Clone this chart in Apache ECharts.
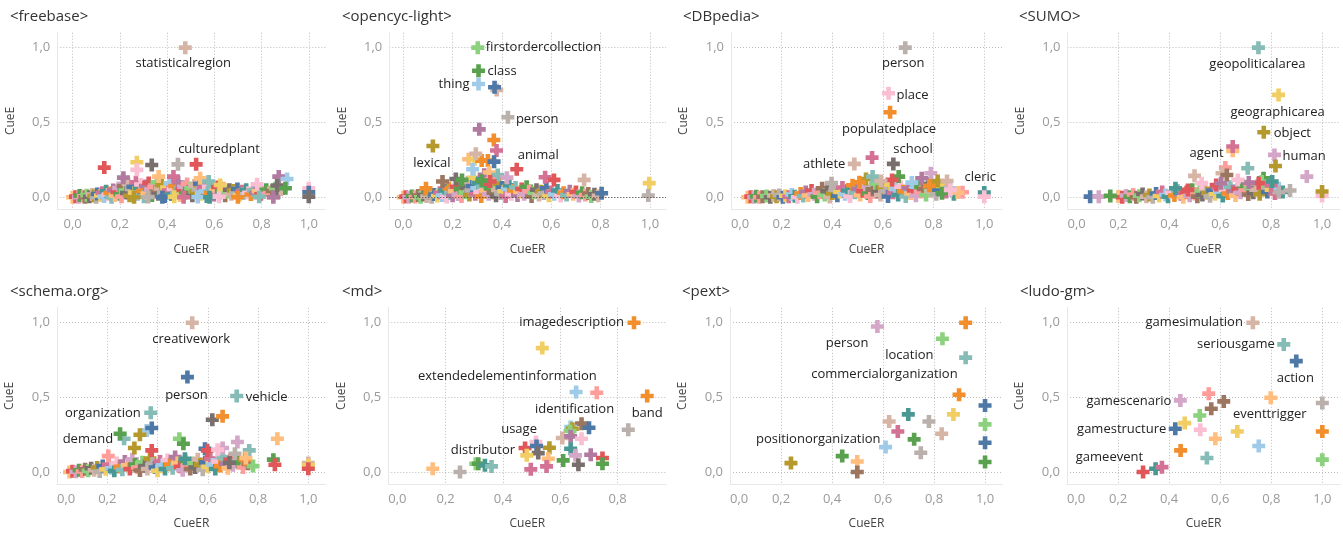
<!DOCTYPE html>
<html>
<head>
<meta charset="utf-8">
<script src="https://cdn.jsdelivr.net/npm/echarts@6/dist/echarts.min.js"></script>
<style>
html,body{margin:0;padding:0;background:#fff;}
#chart{width:1343px;height:534px;}
</style>
</head>
<body>
<div id="chart"></div>
<script>
// ---------- DATA ----------
const panelTitles = ['<freebase>', '<opencyc-light>', '<DBpedia>', '<SUMO>', '<schema.org>', '<md>', '<pext>', '<ludo-gm>'];
const xTickValues = [0, 0.2, 0.4, 0.6, 0.8, 1.0];
const xTickValuesMd = [0, 0.2, 0.4, 0.6, 0.8];
const yTickValues = [0, 0.5, 1.0];
const xAxisName = 'CueER';
const yAxisName = 'CueE';

// freebase
const freebaseNames = ['statisticalregion', 'culturedplant'];
const freebaseTop = [[0.477,1.0],[0.523,0.22],[0.134,0.198],[0.272,0.234],[0.272,0.183],[0.335,0.216],[0.446,0.22],[0.215,0.131],[0.364,0.138],[0.427,0.138],[0.54,0.127],[0.576,0.105],[0.625,0.082],[0.781,0.087],[0.873,0.138],[0.908,0.122],[0.866,0.078],[0.901,0.06],[1.0,0.06],[1.0,0.033],[1.0,0.004]];
const freebaseBand = [[0.0,0.0],[0.012,0.004],[0.025,0.0],[0.03,0.011],[0.045,0.006],[0.052,0.0],[0.06,0.014],[0.071,0.003],[0.083,0.018],[0.09,0.008],[0.1,0.0],[0.104,0.022],[0.118,0.012],[0.125,0.03],[0.133,0.005],[0.142,0.04],[0.15,0.018],[0.158,0.028],[0.165,0.0],[0.172,0.048],[0.18,0.012],[0.188,0.035],[0.195,0.062],[0.2,0.02],[0.207,0.004],[0.214,0.075],[0.222,0.045],[0.228,0.028],[0.235,0.09],[0.241,0.01],[0.248,0.055],[0.255,0.07],[0.262,0.032],[0.268,0.1],[0.275,0.018],[0.282,0.06],[0.288,0.085],[0.295,0.042],[0.302,0.004],[0.308,0.075],[0.315,0.025],[0.322,0.095],[0.33,0.05],[0.336,0.012],[0.343,0.068],[0.35,0.035],[0.357,0.1],[0.363,0.02],[0.37,0.058],[0.377,0.08],[0.384,0.03],[0.39,0.005],[0.398,0.065],[0.405,0.045],[0.412,0.092],[0.418,0.018],[0.425,0.055],[0.432,0.075],[0.44,0.03],[0.447,0.1],[0.455,0.012],[0.462,0.05],[0.47,0.07],[0.477,0.028],[0.485,0.088],[0.492,0.04],[0.5,0.06],[0.507,0.01],[0.515,0.078],[0.522,0.035],[0.53,0.052],[0.537,0.09],[0.545,0.02],[0.553,0.065],[0.56,0.04],[0.568,0.005],[0.575,0.07],[0.583,0.03],[0.59,0.055],[0.598,0.015],[0.606,0.045],[0.614,0.068],[0.622,0.025],[0.63,0.04],[0.638,0.06],[0.646,0.01],[0.655,0.035],[0.664,0.05],[0.672,0.02],[0.68,0.045],[0.69,0.03],[0.698,0.055],[0.707,0.015],[0.716,0.04],[0.725,0.025],[0.735,0.05],[0.745,0.03],[0.755,0.018],[0.765,0.045],[0.775,0.028],[0.786,0.04],[0.797,0.02],[0.808,0.035],[0.82,0.05],[0.832,0.028],[0.845,0.042],[0.858,0.06],[0.87,0.03],[0.882,0.05],[0.26,0.0],[0.32,0.002],[0.38,0.0],[0.43,0.003],[0.47,0.0],[0.53,0.002],[0.58,0.0],[0.62,0.004],[0.7,0.0],[0.79,0.003],[0.85,0.0]];

// opencyc-light
const opencycNames = ['firstordercollection', 'class', 'thing', 'person', 'lexical', 'animal'];
const opencycTop = [[0.302,1.0],[0.305,0.846],[0.305,0.757],[0.424,0.535],[0.12,0.343],[0.46,0.187],[0.379,0.717],[0.37,0.735],[0.308,0.454],[0.367,0.383],[0.378,0.312],[0.265,0.254],[0.289,0.254],[0.318,0.245],[0.343,0.245],[0.368,0.238],[0.294,0.29],[0.281,0.187],[0.348,0.165],[0.383,0.149],[0.42,0.131],[0.575,0.134],[0.611,0.116],[0.733,0.116],[0.997,0.094],[0.993,0.011],[0.804,0.027],[0.159,0.105],[0.213,0.122],[0.238,0.116],[0.352,0.105],[0.318,0.111],[0.092,0.06]];
const opencycBand = [[0.0,0.0],[0.01,0.004],[0.022,0.0],[0.035,0.008],[0.048,0.002],[0.06,0.012],[0.07,0.0],[0.082,0.015],[0.095,0.005],[0.105,0.025],[0.115,0.0],[0.125,0.018],[0.138,0.008],[0.148,0.03],[0.158,0.012],[0.168,0.045],[0.176,0.002],[0.185,0.06],[0.192,0.025],[0.2,0.01],[0.208,0.04],[0.215,0.07],[0.222,0.018],[0.23,0.055],[0.236,0.005],[0.243,0.085],[0.25,0.03],[0.256,0.065],[0.262,0.1],[0.268,0.015],[0.274,0.045],[0.28,0.075],[0.286,0.13],[0.292,0.02],[0.298,0.06],[0.304,0.095],[0.31,0.035],[0.316,0.005],[0.322,0.07],[0.328,0.15],[0.334,0.045],[0.34,0.085],[0.346,0.02],[0.352,0.06],[0.358,0.12],[0.364,0.03],[0.37,0.075],[0.376,0.01],[0.382,0.05],[0.388,0.09],[0.394,0.025],[0.4,0.065],[0.408,0.04],[0.415,0.005],[0.422,0.055],[0.43,0.08],[0.438,0.02],[0.446,0.045],[0.455,0.065],[0.463,0.012],[0.472,0.035],[0.48,0.055],[0.49,0.02],[0.5,0.07],[0.51,0.04],[0.52,0.005],[0.53,0.03],[0.54,0.05],[0.55,0.015],[0.56,0.04],[0.57,0.025],[0.58,0.06],[0.59,0.01],[0.6,0.035],[0.612,0.02],[0.625,0.045],[0.638,0.008],[0.65,0.03],[0.662,0.015],[0.675,0.04],[0.688,0.02],[0.7,0.035],[0.712,0.008],[0.725,0.03],[0.738,0.015],[0.75,0.025],[0.762,0.005],[0.775,0.02],[0.79,0.01]];

// DBpedia
const dbpediaNames = ['person', 'place', 'populatedplace', 'school', 'athlete', 'cleric'];
const dbpediaTop = [[0.688,1.0],[0.622,0.695],[0.628,0.568],[0.641,0.223],[0.487,0.223],[1.0,0.031],[0.557,0.265],[1.0,0.004],[0.789,0.16],[0.753,0.127],[0.816,0.109],[0.853,0.109],[0.914,0.033],[0.662,0.138],[0.397,0.094],[0.636,0.116],[0.714,0.098],[0.783,0.076],[0.895,0.031],[0.833,0.027],[0.866,0.049],[0.533,0.122],[0.559,0.138],[0.592,0.109],[0.507,0.1]];
const dbpediaBand = [[0.066,0.0],[0.078,0.004],[0.09,0.0],[0.1,0.006],[0.112,0.0],[0.125,0.003],[0.14,0.008],[0.155,0.0],[0.168,0.012],[0.18,0.004],[0.19,0.015],[0.205,0.0],[0.215,0.01],[0.228,0.003],[0.24,0.018],[0.252,0.006],[0.262,0.0],[0.275,0.025],[0.285,0.008],[0.295,0.035],[0.305,0.012],[0.318,0.045],[0.328,0.02],[0.34,0.004],[0.35,0.03],[0.36,0.06],[0.37,0.015],[0.38,0.04],[0.39,0.002],[0.4,0.025],[0.41,0.05],[0.42,0.01],[0.43,0.035],[0.44,0.065],[0.45,0.02],[0.46,0.045],[0.47,0.005],[0.48,0.08],[0.49,0.03],[0.5,0.055],[0.51,0.015],[0.52,0.04],[0.53,0.07],[0.54,0.025],[0.55,0.005],[0.56,0.05],[0.57,0.09],[0.58,0.035],[0.59,0.015],[0.6,0.065],[0.61,0.04],[0.62,0.005],[0.63,0.085],[0.64,0.03],[0.65,0.055],[0.66,0.015],[0.67,0.07],[0.68,0.04],[0.69,0.005],[0.7,0.06],[0.71,0.025],[0.72,0.045],[0.73,0.01],[0.74,0.07],[0.75,0.035],[0.76,0.055],[0.77,0.015],[0.78,0.09],[0.79,0.04],[0.8,0.065],[0.81,0.02],[0.82,0.05],[0.835,0.075],[0.85,0.035],[0.865,0.06],[0.88,0.02]];

// SUMO
const sumoNames = ['geopoliticalarea', 'geographicarea', 'object', 'human', 'agent'];
const sumoTop = [[0.75,1.0],[0.829,0.684],[0.771,0.434],[0.813,0.283],[0.649,0.31],[0.649,0.339],[0.817,0.209],[0.708,0.194],[0.62,0.198],[0.607,0.16],[0.626,0.149],[0.499,0.143],[0.527,0.094],[0.94,0.138],[0.874,0.045],[0.83,0.033],[1.0,0.009],[1.0,0.038],[0.77,0.127],[0.763,0.105],[0.751,0.094],[0.8,0.082],[0.804,0.105],[0.712,0.098],[0.669,0.116],[0.584,0.082],[0.603,0.094],[0.089,0.004],[0.123,0.004],[0.168,0.009],[0.424,0.06],[0.473,0.049]];
const sumoBand = [[0.2,0.005],[0.215,0.0],[0.23,0.012],[0.245,0.004],[0.258,0.018],[0.27,0.0],[0.282,0.01],[0.295,0.022],[0.31,0.004],[0.322,0.015],[0.335,0.0],[0.348,0.025],[0.36,0.008],[0.372,0.035],[0.385,0.015],[0.395,0.004],[0.408,0.03],[0.42,0.012],[0.432,0.045],[0.445,0.02],[0.455,0.0],[0.468,0.035],[0.48,0.01],[0.49,0.05],[0.5,0.022],[0.51,0.004],[0.52,0.04],[0.53,0.015],[0.54,0.055],[0.55,0.028],[0.56,0.006],[0.57,0.045],[0.58,0.02],[0.59,0.065],[0.6,0.035],[0.61,0.008],[0.62,0.05],[0.63,0.025],[0.64,0.07],[0.65,0.04],[0.66,0.012],[0.67,0.055],[0.68,0.03],[0.69,0.075],[0.7,0.045],[0.71,0.018],[0.72,0.06],[0.73,0.03],[0.74,0.05],[0.755,0.02],[0.77,0.065],[0.785,0.035],[0.8,0.05],[0.815,0.025],[0.83,0.06],[0.845,0.035]];

// schema.org
const schemaNames = ['creativework', 'person', 'vehicle', 'organization', 'demand'];
const schemaTop = [[0.538,1.0],[0.519,0.636],[0.715,0.509],[0.373,0.397],[0.267,0.223],[0.357,0.279],[0.377,0.295],[0.33,0.25],[0.251,0.257],[0.618,0.35],[0.659,0.373],[0.877,0.223],[0.487,0.223],[0.503,0.19],[0.377,0.145],[0.308,0.161],[0.718,0.201],[0.765,0.145],[0.589,0.156],[0.598,0.145],[0.659,0.161],[0.748,0.085],[0.861,0.083],[0.867,0.049],[1.0,0.06],[1.0,0.045],[1.0,0.022],[0.204,0.107],[0.686,0.0625],[0.708,0.123],[0.752,0.094],[0.639,0.15],[0.509,0.089]];
const schemaBand = [[0.05,0.0],[0.062,0.006],[0.075,0.002],[0.088,0.012],[0.1,0.004],[0.112,0.018],[0.124,0.008],[0.136,0.025],[0.148,0.012],[0.16,0.03],[0.17,0.004],[0.182,0.04],[0.194,0.018],[0.205,0.05],[0.216,0.025],[0.228,0.008],[0.238,0.06],[0.25,0.035],[0.26,0.015],[0.27,0.07],[0.28,0.045],[0.29,0.02],[0.3,0.085],[0.31,0.05],[0.32,0.03],[0.33,0.01],[0.34,0.065],[0.35,0.04],[0.36,0.02],[0.37,0.09],[0.38,0.055],[0.39,0.03],[0.4,0.008],[0.41,0.07],[0.42,0.045],[0.43,0.02],[0.44,0.08],[0.45,0.05],[0.46,0.025],[0.47,0.1],[0.48,0.06],[0.49,0.035],[0.5,0.012],[0.51,0.075],[0.52,0.045],[0.53,0.02],[0.54,0.06],[0.55,0.03],[0.56,0.085],[0.57,0.05],[0.58,0.015],[0.59,0.065],[0.6,0.035],[0.61,0.09],[0.62,0.05],[0.63,0.02],[0.64,0.07],[0.65,0.04],[0.66,0.1],[0.67,0.055],[0.68,0.025],[0.69,0.08],[0.7,0.045],[0.72,0.065],[0.74,0.03],[0.76,0.055],[0.78,0.04]];

// md
const mdNames = ['imagedescription', 'extendedelementinformation', 'band', 'identification', 'usage', 'distributor'];
const mdTop = [[0.857,1.0],[0.727,0.531],[0.903,0.509],[0.674,0.324],[0.515,0.201],[0.477,0.161],[0.537,0.83],[0.655,0.536],[0.837,0.283],[0.636,0.301],[0.642,0.29],[0.634,0.275],[0.7,0.297],[0.607,0.228],[0.636,0.239],[0.674,0.223],[0.517,0.174],[0.523,0.127],[0.562,0.163],[0.483,0.112],[0.558,0.089],[0.497,0.018],[0.552,0.038],[0.61,0.078],[0.636,0.156],[0.653,0.112],[0.663,0.049],[0.706,0.116],[0.747,0.094],[0.747,0.056],[0.155,0.022],[0.25,0.0],[0.305,0.056],[0.314,0.056],[0.337,0.045],[0.36,0.038]];
const mdBand = [];

// pext
const pextNames = ['person', 'location', 'commercialorganization', 'positionorganization'];
const pextTop = [[0.578,0.975],[0.833,0.893],[0.924,0.766],[0.61,0.167],[0.924,1.0],[0.898,0.518],[1.0,0.446],[0.876,0.386],[1.0,0.319],[1.0,0.196],[1.0,0.067],[0.699,0.386],[0.78,0.339],[0.624,0.339],[0.658,0.272],[0.83,0.257],[0.722,0.219],[0.748,0.129],[0.44,0.107],[0.499,0.071],[0.499,0.0],[0.239,0.06]];
const pextBand = [];

// ludo-gm
const ludoNames = ['gamesimulation', 'seriousgame', 'action', 'gamescenario', 'eventtrigger', 'gamestructure', 'gameevent'];
const ludoTop = [[0.728,1.0],[0.849,0.855],[0.898,0.743],[0.444,0.48],[0.798,0.498],[0.424,0.29],[0.298,0.0],[0.555,0.525],[0.614,0.473],[0.565,0.424],[1.0,0.462],[0.52,0.379],[0.461,0.328],[0.522,0.283],[0.667,0.272],[1.0,0.272],[0.581,0.223],[0.751,0.174],[0.445,0.145],[0.548,0.094],[1.0,0.083],[0.347,0.022],[0.372,0.033]];
const ludoBand = [];

// ---------- STYLE ----------
const palette = ['#4E79A7','#A0CBE8','#F28E2B','#FFBE7D','#59A14F','#8CD17D','#B6992D','#F1CE63','#499894','#86BCB6','#E15759','#FF9D9A','#79706E','#BAB0AC','#D37295','#FABFD2','#B07AA1','#D4A6C8','#9D7660','#D7B5A6'];
const styleColors = [
  [19,10,10,7,15,12,13,16,3,14,3,9,7,15,16,1,12,4,15,0,12],
  [5,4,1,13,6,10,19,0,16,2,14,3,7,2,2,0,19,1,3,9,17,14,10,19,7,13,0,18,12,4,10,4,2],
  [13,15,2,12,19,8,14,15,17,16,6,19,11,4,13,10,1,2,3,4,15,6,9,19,2],
  [9,7,6,17,3,14,6,9,11,19,18,19,15,17,13,13,15,6,4,5,10,14,8,16,15,10,16,0,17,4,8,10],
  [19,0,9,9,9,1,0,6,4,12,2,3,5,4,10,6,17,9,0,10,17,2,4,10,19,7,10,11,12,13,3,15,8],
  [2,11,2,18,15,10,7,1,13,1,6,5,0,19,16,15,0,12,6,7,3,14,14,4,8,17,12,16,10,4,3,13,5,4,8,9],
  [17,5,9,1,2,2,0,7,5,0,4,8,13,19,14,19,4,13,4,3,18,6],
  [19,9,0,17,3,0,10,11,18,18,13,5,7,15,7,2,3,1,2,9,5,8,14]
];
// label anchor relative to point centre: [dx, dy, align]
const labelAnchors = [
  [[-2,16,'center'],[-18,-15,'left']],
  [[8,0,'left'],[9,1,'left'],[-9,0,'right'],[8,2,'left'],[-1,17,'center'],[1,-14,'left']],
  [[-2,16,'center'],[8,2,'left'],[-1,17,'center'],[0,-15,'left'],[-9,0,'right'],[-4,-15,'center']],
  [[-1,17,'center'],[-1,17,'center'],[10,1,'left'],[8,1,'left'],[-9,2,'right']],
  [[-1,17,'center'],[-1,18,'center'],[9,1,'left'],[-10,1,'right'],[-11,1,'right']],
  [[-10,0,'right'],[0,-16,'right'],[0,17,'center'],[-7,-14,'center'],[1,-13,'right'],[-10,2,'right']],
  [[-9,17,'right'],[-9,17,'right'],[-8,17,'right'],[-5,-8,'right']],
  [[-10,0,'right'],[-9,0,'right'],[-1,17,'center'],[-9,1,'right'],[-1,17,'center'],[-9,1,'right'],[0,-15,'right']]
];
const layouts = [
  {left:57.3, width:268.0, xMin:-0.065, xMax:1.07, row:0, titleLeft:5},
  {left:389.3, width:276.7, xMin:-0.0567, xMax:1.065, row:0, titleLeft:337},
  {left:731, width:271, xMin:0, xMax:1.07, row:0, titleLeft:678},
  {left:1067.5, width:272.4, xMin:0, xMax:1.07, row:0, titleLeft:1014},
  {left:57, width:268.9, xMin:0, xMax:1.07, row:1, titleLeft:5},
  {left:388.3, width:278.1, xMin:0, xMax:0.97, row:1, titleLeft:337},
  {left:730, width:272.9, xMin:0, xMax:1.07, row:1, titleLeft:677},
  {left:1067, width:273.2, xMin:0, xMax:1.07, row:1, titleLeft:1015}
];
const rows = [{top:32.7, height:176.5, titleTop:4}, {top:307.8, height:176.2, titleTop:279}];
const yMin = -0.08, yMax = 1.1;
const FONT = '"Open Sans", "DejaVu Sans", sans-serif';
const SYM = 13;
const plusPath = 'path://M0,4.2H4.2V0H8.8V4.2H13V8.8H8.8V13H4.2V8.8H0Z';
const fmt = v => Number(v).toFixed(1).replace('.', ',');

const panelData = [
  [freebaseBand, freebaseTop, freebaseNames],
  [opencycBand, opencycTop, opencycNames],
  [dbpediaBand, dbpediaTop, dbpediaNames],
  [sumoBand, sumoTop, sumoNames],
  [schemaBand, schemaTop, schemaNames],
  [mdBand, mdTop, mdNames],
  [pextBand, pextTop, pextNames],
  [ludoBand, ludoTop, ludoNames]
];

const grids = [], xAxes = [], yAxes = [], series = [], titles = [];
panelData.forEach(([band, top, names], i) => {
  const L = layouts[i], R = rows[L.row];
  grids.push({left: L.left, top: R.top, width: L.width, height: R.height});
  titles.push({text: panelTitles[i], left: L.titleLeft, top: R.titleTop,
    textStyle: {fontFamily: FONT, fontSize: 15, fontWeight: 'normal', color: '#333'}});
  const ticks = (i === 5) ? xTickValuesMd : xTickValues;
  xAxes.push({
    type: 'value', gridIndex: i, min: L.xMin, max: L.xMax,
    name: xAxisName, nameLocation: 'middle', nameGap: 34,
    nameTextStyle: {fontFamily: FONT, fontSize: 12, color: '#444'},
    axisLine: {show: true, onZero: false, lineStyle: {color: '#e8e8e8', width: 1}},
    axisTick: {show: false, customValues: ticks},
    axisLabel: {customValues: ticks, formatter: fmt, color: '#9a9a9a', fontSize: 13, fontFamily: FONT, margin: 9,
      alignMinLabel: L.xMin < 0 ? 'center' : 'left'},
    splitLine: {show: true, lineStyle: {color: '#bdbdbd', type: [1, 2], width: 1}}
  });
  yAxes.push({
    type: 'value', gridIndex: i, min: yMin, max: yMax,
    name: yAxisName, nameLocation: 'middle', nameGap: 41, nameRotate: 90,
    nameTextStyle: {fontFamily: FONT, fontSize: 12, color: '#444'},
    axisLine: {show: true, onZero: false, lineStyle: {color: '#e8e8e8', width: 1}},
    axisTick: {show: false, customValues: yTickValues},
    axisLabel: {customValues: yTickValues, formatter: fmt, color: '#9a9a9a', fontSize: 13, fontFamily: FONT, margin: 7},
    splitLine: {show: true, lineStyle: {color: '#bdbdbd', type: [1, 2], width: 1}}
  });
  const cols = styleColors[i], anchors = labelAnchors[i];
  const data = [];
  band.forEach((p, k) => {
    data.push({value: p, itemStyle: {color: palette[(k * 7 + 3) % 20], opacity: 1}});
  });
  top.forEach((p, k) => {
    const item = {value: p, itemStyle: {color: palette[cols[k % cols.length]], opacity: 1}};
    if (k < names.length) {
      const a = anchors[k];
      item.label = {show: true, formatter: names[k], position: [a[0] + SYM / 2, a[1] + SYM / 2],
        align: a[2], verticalAlign: 'middle', color: '#222', fontSize: 13, fontFamily: FONT};
    }
    data.push(item);
  });
  const s = {
    type: 'scatter', xAxisIndex: i, yAxisIndex: i, symbol: plusPath, symbolSize: SYM,
    clip: false, data: data, emphasis: {disabled: true}, silent: true,
    itemStyle: {opacity: 1},
    label: {show: false}
  };
  if (i === 1) {
    s.markLine = {silent: true, symbol: 'none', animation: false, label: {show: false},
      lineStyle: {color: '#444', type: [1, 2], width: 1}, data: [{yAxis: 0}]};
  }
  series.push(s);
});

const chart = echarts.init(document.getElementById('chart'), null, {renderer: 'canvas'});
chart.setOption({
  animation: false,
  backgroundColor: '#fff',
  title: titles,
  grid: grids,
  xAxis: xAxes,
  yAxis: yAxes,
  series: series
});
</script>
</body>
</html>
